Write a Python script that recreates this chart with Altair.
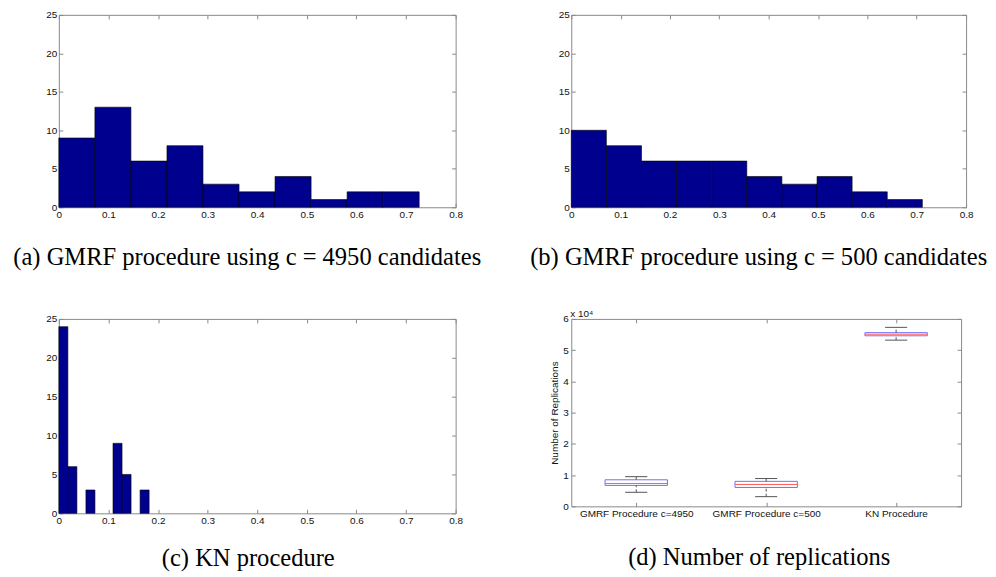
import altair as alt
import pandas as pd

# ---------------- data ----------------
hist_x_ticks = [0, 0.1, 0.2, 0.3, 0.4, 0.5, 0.6, 0.7, 0.8]
hist_y_ticks = [0, 5, 10, 15, 20, 25]

a_edges = [0, 0.0727, 0.1453, 0.2180, 0.2906, 0.3633, 0.4359, 0.5086, 0.5812, 0.6539, 0.7265]
a_counts = [9, 13, 6, 8, 3, 2, 4, 1, 2, 2]

b_edges = [0, 0.0711, 0.1423, 0.2134, 0.2846, 0.3557, 0.4268, 0.4980, 0.5691, 0.6403, 0.7114]
b_counts = [10, 8, 6, 6, 6, 4, 3, 4, 2, 1]

c_edges = [0, 0.0182, 0.0364, 0.0546, 0.0728, 0.0910, 0.1092, 0.1274, 0.1456, 0.1638, 0.1820]
c_counts = [24, 6, 0, 3, 0, 0, 9, 5, 0, 3]

d_pos = [1, 2, 3]
d_labels = ["GMRF Procedure c=4950", "GMRF Procedure c=500", "KN Procedure"]
d_low = [4500, 3100, 53200]
d_q1 = [6700, 6050, 54600]
d_med = [7300, 7000, 55100]
d_q3 = [8500, 8000, 55600]
d_high = [9500, 8900, 57300]
d_y_ticks = [0, 10000, 20000, 30000, 40000, 50000, 60000]
d_exponent = ["x 10\u2074"]

captions = [
    "(a) GMRF procedure using c = 4950 candidates",
    "(b) GMRF procedure using c = 500 candidates",
    "(c) KN procedure",
    "(d) Number of replications",
]

# ---------------- style ----------------
GRAY = "#8a8a8a"
NAVY = "#00008F"
SANS = "Liberation Sans"
SERIF = "Liberation Serif"
CAP_SIZE = 24.6

AX = dict(labelFont=SANS, labelFontSize=10, labelColor="#111111", tickColor=GRAY,
          tickWidth=1, tickSize=4, offset=-4, domain=False, grid=False,
          labelFlush=False, labelOverlap=False, title=None)


def ax_bottom(values, **kw):
    return alt.Axis(orient="bottom", values=values, labelPadding=2, **AX, **kw)


def ax_left(values, **kw):
    return alt.Axis(orient="left", values=values, labelPadding=2, **AX, **kw)


def ax_top(values):
    return alt.Axis(orient="top", values=values, labels=False, **AX)


def ax_right(values):
    return alt.Axis(orient="right", values=values, labels=False, **AX)


def caption(text, offset, dx):
    return alt.TitleParams(text=text, orient="bottom", anchor="middle", frame="group",
                           font=SERIF, fontSize=CAP_SIZE, fontWeight="normal", color="#000000",
                           offset=offset, dx=dx)


def hist_panel(edges, counts, cap, w, h, t_off, t_dx):
    df = pd.DataFrame({"x0": edges[:-1], "x1": edges[1:], "count": counts})
    xs = alt.Scale(domain=[0, 0.8], nice=False, zero=False)
    ys = alt.Scale(domain=[0, 25], nice=False)
    bars = alt.Chart(df).transform_filter("datum.count > 0").mark_rect(
        fill=NAVY, stroke="#000000", strokeWidth=0.6
    ).encode(
        x=alt.X("x0:Q", scale=xs, axis=ax_bottom(hist_x_ticks, format="~g")),
        x2="x1:Q",
        y=alt.Y("count:Q", scale=ys, axis=ax_left(hist_y_ticks, format="d")),
        y2=alt.datum(0),
    )
    frame = alt.Chart(df).mark_point(opacity=0, size=1).encode(
        x=alt.X("x0:Q", scale=xs, axis=ax_top(hist_x_ticks)),
        y=alt.Y("count:Q", scale=ys, axis=ax_right(hist_y_ticks)),
    )
    return alt.layer(bars, frame).resolve_axis(x="independent", y="independent").properties(
        width=w, height=h, title=caption(cap, t_off, t_dx))


panel_a = hist_panel(a_edges, a_counts, captions[0], 398, 193, 27, -10)
panel_b = hist_panel(b_edges, b_counts, captions[1], 396, 193, 27, -10)
panel_c = hist_panel(c_edges, c_counts, captions[2], 398, 195, 22, -9)

# ---------------- box plot panel ----------------
df_d = pd.DataFrame({"pos": d_pos, "label": d_labels, "lo": d_low, "q1": d_q1,
                     "med": d_med, "q3": d_q3, "hi": d_high})
label_expr = " : ".join(
    [f"datum.value == {p} ? '{l}'" for p, l in zip(d_pos[:-1], d_labels[:-1])]
) + f" : '{d_labels[-1]}'"

xs_d = alt.Scale(domain=[0.5, 3.5], nice=False, zero=False)
ys_d = alt.Scale(domain=[0, 60000], nice=False)
base_d = alt.Chart(df_d).transform_calculate(
    bl="datum.pos - 0.24", br="datum.pos + 0.24",
    cl="datum.pos - 0.085", cr="datum.pos + 0.085",
)
box = base_d.mark_rect(fill="transparent", stroke="#6f6fff", strokeWidth=1).encode(
    x=alt.X("bl:Q", scale=xs_d, axis=ax_bottom(d_pos, labelExpr=label_expr)),
    x2="br:Q",
    y=alt.Y("q1:Q", scale=ys_d,
            axis=alt.Axis(orient="left", values=d_y_ticks, labelPadding=3,
                          labelExpr="format(datum.value / 10000, 'd')",
                          **{k: v for k, v in AX.items() if k != "title"},
                          title="Number of Replications", titleFont=SANS,
                          titleFontSize=10, titleFontWeight="normal",
                          titleColor="#111111", titlePadding=3)),
    y2="q3:Q",
)
frame_d = base_d.mark_point(opacity=0, size=1).encode(
    x=alt.X("pos:Q", scale=xs_d, axis=ax_top(d_pos)),
    y=alt.Y("med:Q", scale=ys_d, axis=ax_right(d_y_ticks)),
)
whisk_hi = base_d.mark_rule(color="#555555", strokeDash=[3, 2]).encode(
    x=alt.X("pos:Q", scale=xs_d, axis=None),
    y=alt.Y("q3:Q", scale=ys_d, axis=None), y2="hi:Q")
whisk_lo = base_d.mark_rule(color="#555555", strokeDash=[3, 2]).encode(
    x=alt.X("pos:Q", scale=xs_d, axis=None),
    y=alt.Y("lo:Q", scale=ys_d, axis=None), y2="q1:Q")
cap_hi = base_d.mark_rule(color="#555555").encode(
    x=alt.X("cl:Q", scale=xs_d, axis=None), x2="cr:Q",
    y=alt.Y("hi:Q", scale=ys_d, axis=None))
cap_lo = base_d.mark_rule(color="#555555").encode(
    x=alt.X("cl:Q", scale=xs_d, axis=None), x2="cr:Q",
    y=alt.Y("lo:Q", scale=ys_d, axis=None))
median = base_d.mark_rule(color="#ff5a5a", strokeWidth=1).encode(
    x=alt.X("bl:Q", scale=xs_d, axis=None), x2="br:Q",
    y=alt.Y("med:Q", scale=ys_d, axis=None))
expo = alt.Chart(pd.DataFrame({"t": d_exponent})).mark_text(
    align="left", baseline="alphabetic", font=SANS, fontSize=10, color="#111111"
).encode(text="t:N", x=alt.value(-1), y=alt.value(-2))

panel_d = alt.layer(box, frame_d, whisk_hi, whisk_lo, cap_hi, cap_lo, median, expo).resolve_axis(
    x="independent", y="independent").properties(
    width=391, height=188, title=caption(captions[3], 28, -7))

chart = alt.concat(
    panel_a, panel_b, panel_c, panel_d,
    columns=2, spacing={"row": 112, "column": 116}, bounds="flush",
).properties(
    padding={"left": 4, "top": 0, "right": 0, "bottom": 0},
    background="white",
).configure_view(stroke=GRAY, strokeWidth=1)

chart.save("out.html", embed_options={"renderer": "svg", "actions": False})
